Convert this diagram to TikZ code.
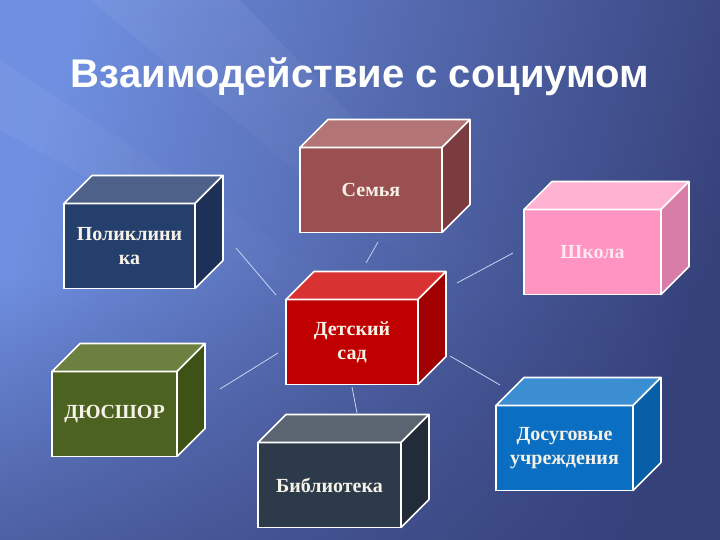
\documentclass[tikz,border=0pt]{standalone}
\usepackage{fontspec}
\setmainfont{Liberation Serif}
\newfontfamily\titlefont{Liberation Sans}
\usetikzlibrary{calc, fadings}

\definecolor{bgLight}{HTML}{6F8FE0}
\definecolor{bgDark}{HTML}{36417A}
\definecolor{linkColor}{HTML}{C8D4F2}
\definecolor{cubeText}{HTML}{F6F2E8}
% front, top and side of each box
\definecolor{semyaFront}{HTML}{9A5050}
\definecolor{semyaTop}{HTML}{B27474}
\definecolor{semyaSide}{HTML}{7A3C3E}
\definecolor{polyFront}{HTML}{243F6C}
\definecolor{polyTop}{HTML}{4E6289}
\definecolor{polySide}{HTML}{1C3058}
\definecolor{shkolaFront}{HTML}{FF93C2}
\definecolor{shkolaTop}{HTML}{FFB2D2}
\definecolor{shkolaSide}{HTML}{D87CA8}
\definecolor{sadFront}{HTML}{C00000}
\definecolor{sadTop}{HTML}{D83232}
\definecolor{sadSide}{HTML}{A00000}
\definecolor{sportFront}{HTML}{4B6220}
\definecolor{sportTop}{HTML}{6C8040}
\definecolor{sportSide}{HTML}{3D5214}
\definecolor{bibFront}{HTML}{2C3A4A}
\definecolor{bibTop}{HTML}{5B6571}
\definecolor{bibSide}{HTML}{222C38}
\definecolor{dosugFront}{HTML}{0A6FC2}
\definecolor{dosugTop}{HTML}{3C8ED2}
\definecolor{dosugSide}{HTML}{075FA8}

\tikzset{
  cube/.style={draw=white, line width=1.6pt, outer sep=0pt, minimum height=85,
    text=cubeText, font=\bfseries\fontsize{20}{24}\selectfont, align=center},
  face/.style={draw=white, line width=1.6pt, line join=round},
  link/.style={draw=linkColor, line width=0.8pt},
}

\begin{document}
\begin{tikzpicture}[x=1pt, y=1pt]
% background
\shade[top color=bgLight, bottom color=bgDark, shading angle=75] (0,0) rectangle (720,540);
\fill[bgDark, path fading=north, opacity=0.55] (0,0) rectangle (720,260);
\fill[white, path fading=south, opacity=0.06] (90,540) -- (240,540) -- (520,250) -- (440,250) -- cycle;
\fill[white, path fading=east, opacity=0.05] (0,480) -- (0,410) -- (330,230) -- (380,230) -- cycle;
\useasboundingbox (0,0) rectangle (720,540);

\node[anchor=base, text=white, font=\titlefont\bfseries\fontsize{40}{44}\selectfont] (title) at (360,452) {Взаимодействие с социумом};

% boxes
\node[cube, fill=semyaFront, minimum width=142] (semya) at (371,350) {Семья};
\node[cube, fill=polyFront, minimum width=131] (poly) at (129.5,294) {Поликлини\\ка};
\node[cube, fill=shkolaFront, minimum width=137, text=shkolaTop!30!white] (shkola) at (592.5,288) {Школа};
\node[cube, fill=sadFront, minimum width=132] (sad) at (352,198) {Детский\\сад};
\node[cube, fill=sportFront, minimum width=125] (sport) at (114.5,126) {ДЮСШОР};
\node[cube, fill=bibFront, minimum width=143] (bib) at (329.5,55) {Библиотека};
\node[cube, fill=dosugFront, minimum width=137] (dosug) at (564.5,92) {Досуговые\\учреждения};

\foreach \n in {semya, poly, shkola, sad, sport, bib, dosug} {
  \filldraw[face, fill=\n Top] (\n.north west) -- ++(28,28) -- ($(\n.north east)+(28,28)$) -- (\n.north east) -- cycle;
  \filldraw[face, fill=\n Side] (\n.north east) -- ++(28,28) -- ($(\n.south east)+(28,28)$) -- (\n.south east) -- cycle;
}

% links
\coordinate (semyaA) at (378,298);
\coordinate (semyaB) at (366,277);
\coordinate (polyA) at (236,292);
\coordinate (polyB) at (276,245);
\coordinate (shkolaA) at (513,287);
\coordinate (shkolaB) at (457,257);
\coordinate (sportA) at (220,151);
\coordinate (sportB) at (278,187);
\coordinate (dosugA) at (500,155);
\coordinate (dosugB) at (450,184);
\coordinate (bibA) at (357,127);
\coordinate (bibB) at (352,153);
\draw[link] (semyaA) -- (semyaB);
\draw[link] (polyA) -- (polyB);
\draw[link] (shkolaA) -- (shkolaB);
\draw[link] (sportA) -- (sportB);
\draw[link] (dosugA) -- (dosugB);
\draw[link] (bibA) -- (bibB);
\end{tikzpicture}
\end{document}
